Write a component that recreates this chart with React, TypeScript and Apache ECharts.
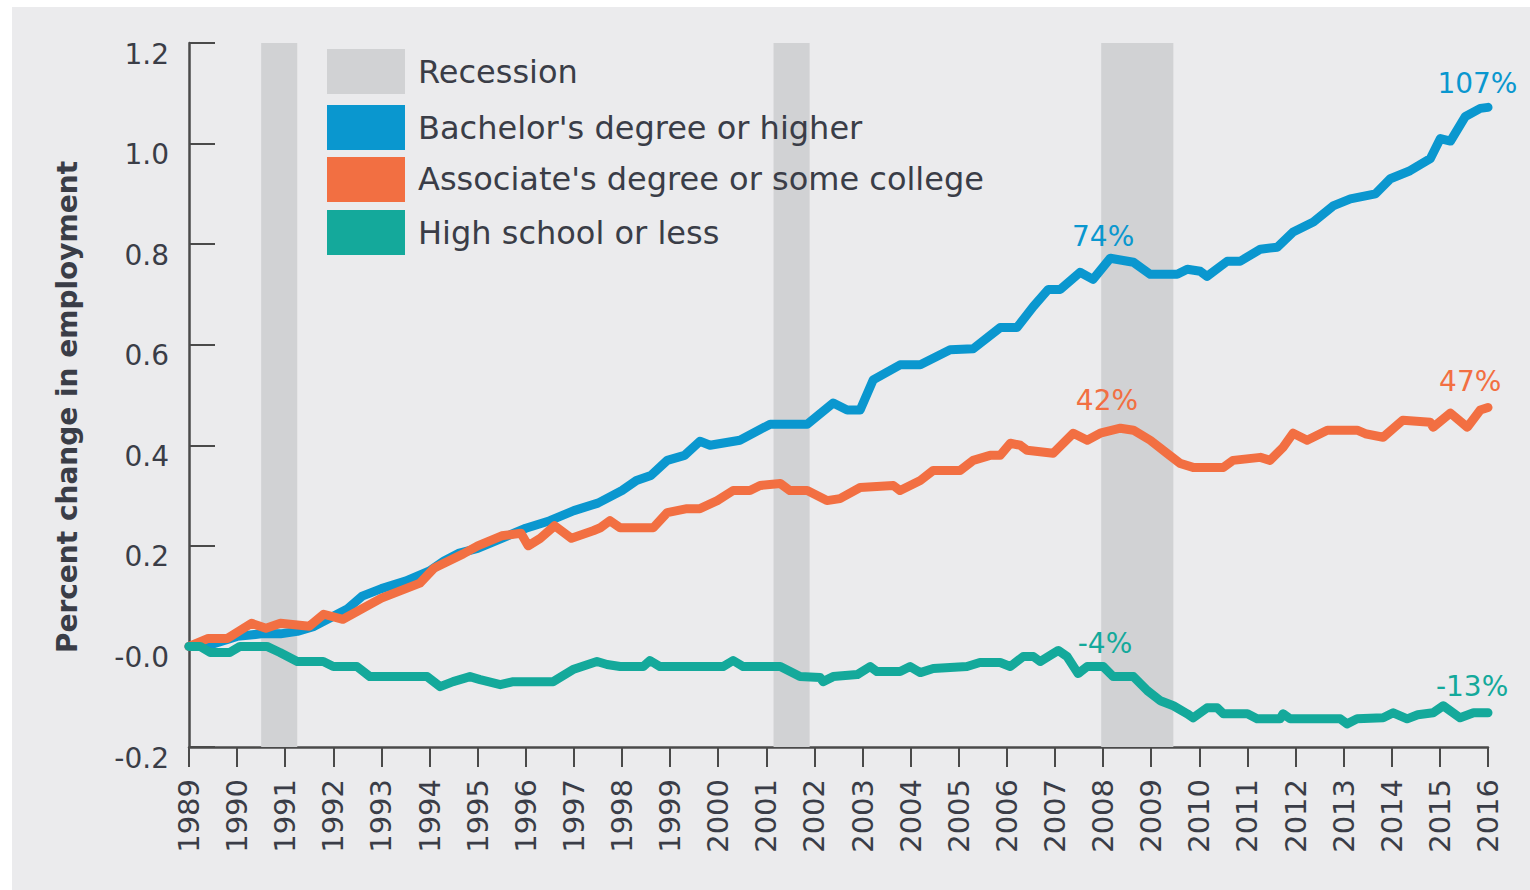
import React, { useEffect, useRef } from "react";
import * as echarts from "echarts";

const FONT = "DejaVu Sans";
const BLUE = "#0a97cf";
const ORANGE = "#f26f42";
const TEAL = "#14a99b";
const REC = "#d1d2d4";
const TXT = "#3a3d47";

const SERIES_NAMES = [
  "Bachelor's degree or higher",
  "Associate's degree or some college",
  "High school or less",
];

const RECESSIONS: [number, number][] = [
  [1990.5, 1991.25],
  [2001.15, 2001.9],
  [2007.96, 2009.46],
];

const BACHELOR: [number, number][] = [
  [1989.0, 0.0], [1989.5, 0.005], [1990.0, 0.02], [1990.5, 0.025], [1990.9, 0.025],
  [1991.25, 0.03], [1991.6, 0.04], [1992.0, 0.06], [1992.3, 0.075], [1992.6, 0.1],
  [1993.0, 0.115], [1993.5, 0.13], [1994.0, 0.15], [1994.3, 0.17], [1994.6, 0.185],
  [1995.0, 0.195], [1995.5, 0.215], [1996.0, 0.235], [1996.5, 0.25], [1997.0, 0.27],
  [1997.5, 0.285], [1998.0, 0.31], [1998.3, 0.33], [1998.6, 0.34], [1998.94, 0.37],
  [1999.3, 0.38], [1999.62, 0.408], [1999.83, 0.4], [2000.45, 0.41], [2001.08, 0.442],
  [2001.85, 0.442], [2002.39, 0.484], [2002.68, 0.47], [2002.95, 0.47], [2003.22, 0.53],
  [2003.78, 0.56], [2004.2, 0.56], [2004.82, 0.59], [2005.3, 0.592], [2005.86, 0.634],
  [2006.21, 0.634], [2006.55, 0.676], [2006.86, 0.71], [2007.11, 0.71], [2007.52, 0.744],
  [2007.79, 0.73], [2008.15, 0.772], [2008.63, 0.764], [2008.98, 0.74], [2009.54, 0.74],
  [2009.75, 0.75], [2010.02, 0.746], [2010.16, 0.736], [2010.58, 0.766], [2010.85, 0.766],
  [2011.27, 0.79], [2011.62, 0.794], [2011.95, 0.824], [2012.37, 0.844], [2012.78, 0.876],
  [2013.14, 0.89], [2013.66, 0.9], [2013.97, 0.93], [2014.38, 0.946], [2014.8, 0.97],
  [2015.01, 1.01], [2015.22, 1.005], [2015.53, 1.054], [2015.84, 1.07], [2016.0, 1.072],
];

const ASSOCIATE: [number, number][] = [
  [1989.0, 0.0], [1989.4, 0.016], [1989.8, 0.016], [1990.3, 0.046], [1990.6, 0.036],
  [1990.9, 0.046], [1991.5, 0.04], [1991.8, 0.064], [1992.2, 0.054], [1993.0, 0.096],
  [1993.8, 0.126], [1994.1, 0.156], [1994.7, 0.184], [1995.0, 0.2], [1995.5, 0.22],
  [1995.9, 0.225], [1996.05, 0.2], [1996.3, 0.215], [1996.6, 0.24], [1996.95, 0.215],
  [1997.4, 0.23], [1997.55, 0.236], [1997.75, 0.25], [1997.96, 0.236], [1998.65, 0.236],
  [1998.94, 0.266], [1999.35, 0.274], [1999.62, 0.274], [1999.98, 0.29], [2000.31, 0.31],
  [2000.66, 0.31], [2000.87, 0.32], [2001.29, 0.324], [2001.49, 0.31], [2001.85, 0.31],
  [2002.26, 0.29], [2002.53, 0.294], [2002.95, 0.316], [2003.64, 0.32], [2003.78, 0.31],
  [2004.2, 0.33], [2004.47, 0.35], [2005.03, 0.35], [2005.3, 0.37], [2005.65, 0.38],
  [2005.86, 0.38], [2006.07, 0.404], [2006.28, 0.4], [2006.42, 0.39], [2006.96, 0.384],
  [2007.38, 0.424], [2007.67, 0.41], [2007.94, 0.424], [2008.36, 0.434], [2008.63, 0.43],
  [2008.98, 0.41], [2009.33, 0.384], [2009.6, 0.364], [2009.87, 0.356], [2010.5, 0.356],
  [2010.7, 0.37], [2011.27, 0.376], [2011.47, 0.37], [2011.74, 0.396], [2011.95, 0.424],
  [2012.24, 0.41], [2012.66, 0.43], [2013.28, 0.43], [2013.45, 0.423], [2013.82, 0.416],
  [2014.23, 0.45], [2014.8, 0.446], [2014.86, 0.436], [2015.22, 0.464], [2015.57, 0.436],
  [2015.84, 0.47], [2016.0, 0.475],
];

const HIGHSCHOOL: [number, number][] = [
  [1989.0, 0.0], [1989.23, 0.0], [1989.44, -0.012], [1989.85, -0.012], [1990.06, 0.0],
  [1990.62, 0.0], [1990.89, -0.012], [1991.25, -0.03], [1991.79, -0.03], [1992.0, -0.04],
  [1992.49, -0.04], [1992.76, -0.06], [1993.95, -0.06], [1994.22, -0.08], [1994.49, -0.07],
  [1994.84, -0.06], [1995.05, -0.066], [1995.47, -0.076], [1995.74, -0.07], [1996.57, -0.07],
  [1996.98, -0.046], [1997.48, -0.03], [1997.69, -0.036], [1997.96, -0.04], [1998.44, -0.04],
  [1998.58, -0.028], [1998.79, -0.04], [2000.1, -0.04], [2000.31, -0.028], [2000.52, -0.04],
  [2001.29, -0.04], [2001.7, -0.06], [2002.12, -0.062], [2002.18, -0.07], [2002.39, -0.06],
  [2002.89, -0.056], [2003.16, -0.04], [2003.3, -0.05], [2003.78, -0.05], [2003.99, -0.04],
  [2004.2, -0.052], [2004.47, -0.044], [2005.17, -0.04], [2005.44, -0.032], [2005.86, -0.032],
  [2006.07, -0.04], [2006.34, -0.02], [2006.55, -0.02], [2006.69, -0.03], [2006.9, -0.018],
  [2007.07, -0.008], [2007.25, -0.02], [2007.48, -0.054], [2007.67, -0.04], [2008.0, -0.04],
  [2008.21, -0.06], [2008.63, -0.06], [2008.92, -0.088], [2009.19, -0.108], [2009.46, -0.118],
  [2009.75, -0.134], [2009.87, -0.142], [2010.16, -0.122], [2010.37, -0.122], [2010.5, -0.134],
  [2011.0, -0.134], [2011.2, -0.144], [2011.68, -0.144], [2011.74, -0.134], [2011.89, -0.144],
  [2012.93, -0.144], [2013.07, -0.154], [2013.28, -0.144], [2013.82, -0.142], [2014.03, -0.132],
  [2014.32, -0.144], [2014.54, -0.136], [2014.86, -0.132], [2015.07, -0.118], [2015.42, -0.142],
  [2015.7, -0.132], [2016.0, -0.132],
];

// annotation labels: [year, value, text]
const BLUE_LABELS: [number, number, string][] = [
  [2008.0, 0.816, "74%"],
  [2015.78, 1.12, "107%"],
];
const ORANGE_LABELS: [number, number, string][] = [
  [2008.08, 0.49, "42%"],
  [2015.63, 0.526, "47%"],
];
const TEAL_LABELS: [number, number, string][] = [
  [2008.04, 0.006, "-4%"],
  [2015.67, -0.08, "-13%"],
];

const labelPoints = (arr: [number, number, string][], color: string) => ({
  symbol: "rect",
  symbolSize: 1,
  silent: true,
  itemStyle: { color: "rgba(0,0,0,0)" },
  label: {
    show: true,
    position: "inside",
    color,
    fontFamily: FONT,
    fontSize: 28,
    formatter: (p: any) => p.name,
  },
  data: arr.map(([x, y, t]) => ({ coord: [x, y], name: t })),
});

const lineSeries = (name: string, data: [number, number][], color: string, labels: any) => ({
  type: "line",
  name,
  data,
  showSymbol: false,
  symbol: "none",
  smooth: false,
  lineStyle: { color, width: 9, cap: "round", join: "round" },
  itemStyle: { color },
  markPoint: labels,
  z: 3,
});

const LEGEND_ITEMS: [string, string][] = [
  ["Recession", REC],
  [SERIES_NAMES[0], BLUE],
  [SERIES_NAMES[1], ORANGE],
  [SERIES_NAMES[2], TEAL],
];

export default function App() {
  const ref = useRef<HTMLDivElement>(null);
  useEffect(() => {
    document.body.style.margin = "0";
    const chart = echarts.init(ref.current!, null, { renderer: "svg" });
    const legendTops = [42, 98, 150, 203];
    const textCenters = [65, 121, 172, 226];
    const graphic: any[] = [];
    LEGEND_ITEMS.forEach(([label, color], i) => {
      graphic.push({
        type: "rect",
        left: 315,
        top: legendTops[i],
        shape: { width: 78, height: 45 },
        style: { fill: color },
        z: 10,
      });
      graphic.push({
        type: "text",
        x: 406,
        y: textCenters[i],
        style: {
          text: label,
          fill: TXT,
          font: `500 32px "${FONT}"`,
          verticalAlign: "middle",
          align: "left",
        },
        z: 10,
      });
    });

    chart.setOption({
      animation: false,
      backgroundColor: "#ebebed",
      grid: { left: 177, right: 42, top: 36, bottom: 143, containLabel: false },
      xAxis: {
        type: "value",
        min: 1989,
        max: 2016,
        interval: 1,
        splitLine: { show: false },
        axisLine: { show: true, onZero: false, lineStyle: { color: "#4a4a4a", width: 2.5 } },
        axisTick: { show: true, length: 20, lineStyle: { color: "#4a4a4a", width: 2 } },
        axisLabel: {
          rotate: 90,
          margin: 32,
          color: TXT,
          fontFamily: FONT,
          fontSize: 29,
          formatter: (v: number) => String(Math.round(v)),
        },
      },
      yAxis: {
        type: "value",
        min: -0.2,
        max: 1.2,
        interval: 0.2,
        name: "Percent change in employment",
        nameLocation: "middle",
        nameGap: 108,
        nameTextStyle: {
          color: TXT,
          fontFamily: FONT,
          fontSize: 28,
          fontWeight: 600,
          padding: [0, 24, 0, 0],
        },
        splitLine: { show: false },
        axisLine: { show: true, lineStyle: { color: "#4a4a4a", width: 2.5 } },
        axisTick: { show: true, inside: true, length: 26, lineStyle: { color: "#4a4a4a", width: 2 } },
        axisLabel: {
          margin: 20,
          color: TXT,
          fontFamily: FONT,
          fontSize: 28,
          verticalAlign: "top",
          lineHeight: 22,
          formatter: (v: number) => (Math.abs(v) < 1e-9 ? "-0.0" : v.toFixed(1)),
        },
      },
      graphic,
      series: [
        {
          type: "line",
          name: "Recession",
          data: [[1989, 0]],
          showSymbol: false,
          symbol: "none",
          lineStyle: { opacity: 0 },
          silent: true,
          z: 1,
          markArea: {
            silent: true,
            itemStyle: { color: REC },
            data: RECESSIONS.map(([a, b]) => [{ xAxis: a }, { xAxis: b }]),
          },
        },
        lineSeries(SERIES_NAMES[0], BACHELOR, BLUE, labelPoints(BLUE_LABELS, BLUE)),
        lineSeries(SERIES_NAMES[1], ASSOCIATE, ORANGE, labelPoints(ORANGE_LABELS, ORANGE)),
        lineSeries(SERIES_NAMES[2], HIGHSCHOOL, TEAL, labelPoints(TEAL_LABELS, TEAL)),
      ],
    });
    return () => chart.dispose();
  }, []);

  return (
    <div style={{ position: "relative", width: 1530, height: 890, background: "#ffffff", overflow: "hidden" }}>
      <div
        ref={ref}
        style={{ position: "absolute", left: 12, top: 7, width: 1518, height: 883 }}
      />
    </div>
  );
}
